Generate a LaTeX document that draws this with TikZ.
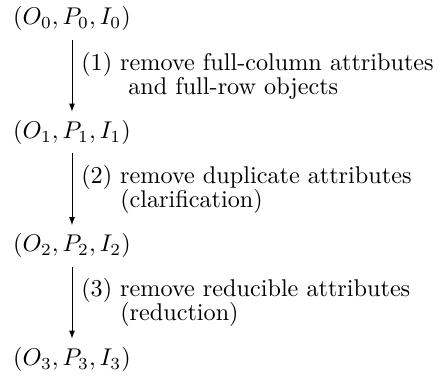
\documentclass[tikz,border=0pt]{standalone}
\usetikzlibrary{arrows.meta}
\begin{document}
\begin{tikzpicture}[x=1pt,y=1pt,
  state/.style={inner sep=3.33pt},
  stepedge/.style={line width=0.4pt,-{Latex[length=3.3pt,width=2.4pt]}},
  steplabel/.style={anchor=west, xshift=0.3pt, align=left, inner sep=3.33pt,
    font={\fontsize{10}{10}\selectfont}}]
\useasboundingbox (-29.75,7.8) rectangle (152.07,-147.2);
\node[state] (s0) at (0,0) {$(O_0,P_0,I_0)$};
\node[state] (s1) at (0,-46.9) {$(O_1,P_1,I_1)$};
\node[state] (s2) at (0,-93.8) {$(O_2,P_2,I_2)$};
\node[state] (s3) at (0,-140.7) {$(O_3,P_3,I_3)$};
\draw[stepedge] (s0) -- node[steplabel] {(1) remove full-column attributes\\\hphantom{(1) }\ and full-row objects} (s1);
\draw[stepedge] (s1) -- node[steplabel] {(2) remove duplicate attributes\\\hphantom{(2) }(clarification)} (s2);
\draw[stepedge] (s2) -- node[steplabel] {(3) remove reducible attributes\\\hphantom{(3) }(reduction)} (s3);
\end{tikzpicture}
\end{document}
